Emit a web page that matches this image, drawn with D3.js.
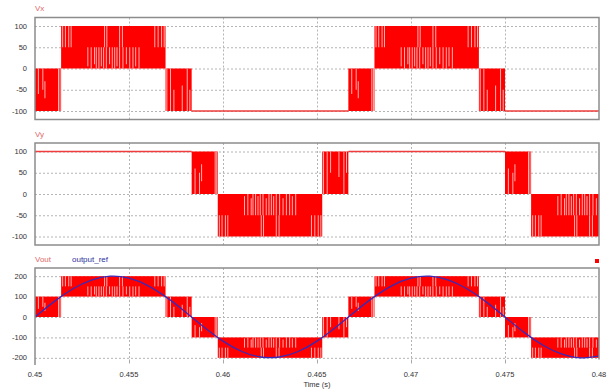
<!DOCTYPE html>
<html>
<head>
<meta charset="utf-8">
<script src="https://cdn.jsdelivr.net/npm/d3@7"></script>
<style>
  html, body { margin: 0; padding: 0; background: #fff; }
  svg { display: block; font-family: "Liberation Sans", Arial, sans-serif; }
</style>
</head>
<body>
<svg id="chart" width="608" height="389"></svg>
<script>
// ---------------- DATA ----------------
const xDomain = [0.45, 0.48];
const xTicks = [0.45, 0.455, 0.46, 0.465, 0.47, 0.475, 0.48];
const xTickLabels = ["0.45", "0.455", "0.46", "0.465", "0.47", "0.475", "0.48"];
const xTitle = "Time (s)";

const vxTicks = [100, 50, 0, -50, -100];
const vyTicks = [100, 50, 0, -50, -100];
const voutTicks = [200, 100, 0, -100, -200];

// Segment boundaries (s): [start, end, base, level, pattern]
// pattern: "A" narrow leading, "W" wide, "B" narrow trailing, "flat" constant level
const vxSegments = [
  [0.450000, 0.451389, 0, -100, "A"],
  [0.451389, 0.456944, 0, 100, "W"],
  [0.456944, 0.458333, 0, -100, "B"],
  [0.458333, 0.466667, -100, -100, "flat"],
  [0.466667, 0.468056, 0, -100, "A"],
  [0.468056, 0.473611, 0, 100, "W"],
  [0.473611, 0.475000, 0, -100, "B"],
  [0.475000, 0.480000, -100, -100, "flat"]
];
const vySegments = [
  [0.450000, 0.458333, 100, 100, "flat"],
  [0.458333, 0.459722, 0, 100, "A"],
  [0.459722, 0.465278, 0, -100, "W"],
  [0.465278, 0.466667, 0, 100, "B"],
  [0.466667, 0.475000, 100, 100, "flat"],
  [0.475000, 0.476389, 0, 100, "A"],
  [0.476389, 0.481944, 0, -100, "W"]
];
const voutSegments = [
  [0.450000, 0.451389, 100, 0, "A"],
  [0.451389, 0.456944, 100, 200, "W"],
  [0.456944, 0.458333, 100, 0, "B"],
  [0.458333, 0.459722, -100, 0, "A"],
  [0.459722, 0.465278, -100, -200, "W"],
  [0.465278, 0.466667, -100, 0, "B"],
  [0.466667, 0.468056, 100, 0, "A"],
  [0.468056, 0.473611, 100, 200, "W"],
  [0.473611, 0.475000, 100, 0, "B"],
  [0.475000, 0.476389, -100, 0, "A"],
  [0.476389, 0.481944, -100, -200, "W"]
];

// Visible light switching gaps inside a block: [position fraction, from, to] (fractions base->level)
const gapsA = [[0.13, 0, 0.6], [0.30, 0, 0.5], [0.38, 0.3, 0.7], [0.90, 0, 1], [0.96, 0, 1]];
const gapsB = [[0.05, 0, 1], [0.19, 0, 1], [0.32, 0.5, 1], [0.64, 0.4, 1], [0.83, 0, 1], [0.93, 0.5, 1]];
const gapsW = [
  [0.015, 0.5, 1], [0.041, 0.5, 1], [0.073, 0.5, 1], [0.096, 0.5, 1],
  [0.416, 0.5, 1], [0.438, 0.5, 1], [0.560, 0.5, 1], [0.587, 0.5, 1],
  [0.897, 0.5, 1], [0.929, 0.5, 1], [0.962, 0.5, 1], [0.987, 0.5, 1],
  [0.256, 0.05, 0.5], [0.288, 0, 0.5], [0.320, 0.1, 0.5], [0.337, 0, 0.5],
  [0.362, 0, 0.5], [0.385, 0.05, 0.5], [0.407, 0, 0.5], [0.433, 0, 0.5],
  [0.464, 0.1, 0.5], [0.490, 0, 0.5], [0.513, 0, 0.5], [0.535, 0.05, 0.5],
  [0.560, 0, 0.5], [0.592, 0, 0.5], [0.625, 0.1, 0.5], [0.657, 0, 0.5],
  [0.688, 0, 0.5], [0.714, 0.05, 0.5], [0.746, 0, 0.5]
];

// output_ref sampled every 1 ms from 0.45 s
const refTimes = [0.450,0.451,0.452,0.453,0.454,0.455,0.456,0.457,0.458,0.459,0.460,
                  0.461,0.462,0.463,0.464,0.465,0.466,0.467,0.468,0.469,0.470,
                  0.471,0.472,0.473,0.474,0.475,0.476,0.477,0.478,0.479,0.480];
const refValues = [0,74,137,181,200,190,154,96,25,-50,-118,
                   -169,-196,-196,-169,-118,-50,25,96,154,190,
                   200,181,137,74,0,-74,-137,-181,-200,-190];

// ---------------- LAYOUT ----------------
const svg = d3.select("#chart");
const left = 35, right = 599;
const x = d3.scaleLinear().domain(xDomain).range([left, right]);
const patterns = { A: gapsA, B: gapsB, W: gapsW };

const panels = [
  { name: "Vx", segs: vxSegments, ticks: vxTicks, dom: [-120, 120], rng: [119.5, 17.5], title: 8 },
  { name: "Vy", segs: vySegments, ticks: vyTicks, dom: [-120, 120], rng: [245, 143], title: 134 },
  { name: "Vout", segs: voutSegments, ticks: voutTicks, dom: [-240, 240], rng: [366, 268], title: 259, bottom: 359.5 }
];

const gridColor = "#b4b4b4";
const frameColor = "#8c8c8c";
const red = "#ff0000";

panels.forEach((p, i) => {
  const y = d3.scaleLinear().domain(p.dom).range(p.rng);
  const top = p.rng[1];
  const bot = p.bottom !== undefined ? p.bottom : p.rng[0];
  const g = svg.append("g");

  const clipId = "clip" + i;
  svg.append("clipPath").attr("id", clipId)
    .append("rect").attr("x", left).attr("y", top).attr("width", right - left).attr("height", bot - top + 2);

  // grid
  g.selectAll(".hg").data(p.ticks).enter().append("line")
    .attr("x1", left).attr("x2", right)
    .attr("y1", d => y(d) + 0.5).attr("y2", d => y(d) + 0.5)
    .attr("stroke", gridColor).attr("stroke-width", 1).attr("stroke-dasharray", "2,2");
  g.selectAll(".vg").data(xTicks.slice(1, -1)).enter().append("line")
    .attr("x1", d => Math.round(x(d)) + 0.5).attr("x2", d => Math.round(x(d)) + 0.5)
    .attr("y1", top).attr("y2", bot)
    .attr("stroke", gridColor).attr("stroke-width", 1).attr("stroke-dasharray", "2,2");

  const data = g.append("g").attr("clip-path", `url(#${clipId})`);

  // switching blocks
  p.segs.forEach(s => {
    const [t0, t1, base, level, pat] = s;
    if (pat === "flat") {
      data.append("line")
        .attr("x1", x(t0)).attr("x2", x(t1))
        .attr("y1", y(level)).attr("y2", y(level))
        .attr("stroke", "#f03c3c").attr("stroke-width", 1.4);
      return;
    }
    const yA = y(base), yB = y(level);
    data.append("rect")
      .attr("x", x(t0)).attr("width", x(t1) - x(t0))
      .attr("y", Math.min(yA, yB)).attr("height", Math.abs(yB - yA))
      .attr("fill", red);
    data.selectAll(null).data(patterns[pat]).enter().append("line")
      .attr("x1", d => x(t0 + d[0] * (t1 - t0))).attr("x2", d => x(t0 + d[0] * (t1 - t0)))
      .attr("y1", d => y(base + d[1] * (level - base)))
      .attr("y2", d => y(base + d[2] * (level - base)))
      .attr("stroke", "#ffc4c4").attr("stroke-width", 0.9);
  });

  // frame
  if (p.bottom === undefined) {
    g.append("rect").attr("x", left).attr("y", top).attr("width", right - left).attr("height", bot - top)
      .attr("fill", "none").attr("stroke", frameColor).attr("stroke-width", 1.5);
  } else {
    g.append("path")
      .attr("d", `M${left},365 L${left},${top} L${right},${top} L${right},${bot}`)
      .attr("fill", "none").attr("stroke", frameColor).attr("stroke-width", 1.5);
  }

  // y tick labels
  g.selectAll(".yl").data(p.ticks).enter().append("text")
    .attr("x", 27).attr("y", d => y(d)).attr("dy", "0.35em")
    .attr("text-anchor", "end").attr("font-size", 7.5).attr("fill", "#333")
    .text(d => d);

  // title
  g.append("text").attr("x", 35).attr("y", p.title).attr("dy", "0.35em")
    .attr("font-size", 8).attr("fill", "#e06a6a").text(p.name);

  if (p.name === "Vout") {
    const line = d3.line().x((d, k) => x(refTimes[k])).y(d => y(d)).curve(d3.curveNatural);
    data.append("path").datum(refValues).attr("d", line)
      .attr("fill", "none").attr("stroke", "#3a2ab8").attr("stroke-width", 1.3);
    g.append("text").attr("x", 72).attr("y", p.title).attr("dy", "0.35em")
      .attr("font-size", 8).attr("fill", "#3030a0").text("output_ref");
    g.append("rect").attr("x", 595).attr("y", 259).attr("width", 4).attr("height", 4).attr("fill", red);

    // x axis ticks and labels
    g.selectAll(".xt").data(xTicks.slice(1, -1)).enter().append("line")
      .attr("x1", d => Math.round(x(d)) + 0.5).attr("x2", d => Math.round(x(d)) + 0.5)
      .attr("y1", bot).attr("y2", bot + 4).attr("stroke", "#aaa");
    g.selectAll(".xl").data(xTicks).enter().append("text")
      .attr("x", d => x(d)).attr("y", 374).attr("dy", "0.35em")
      .attr("text-anchor", "middle").attr("font-size", 7.5).attr("fill", "#333")
      .text((d, k) => xTickLabels[k]);
    g.append("text").attr("x", 317).attr("y", 384).attr("dy", "0.35em")
      .attr("text-anchor", "middle").attr("font-size", 7.5).attr("fill", "#333").text(xTitle);
  }
});
</script>
</body>
</html>
